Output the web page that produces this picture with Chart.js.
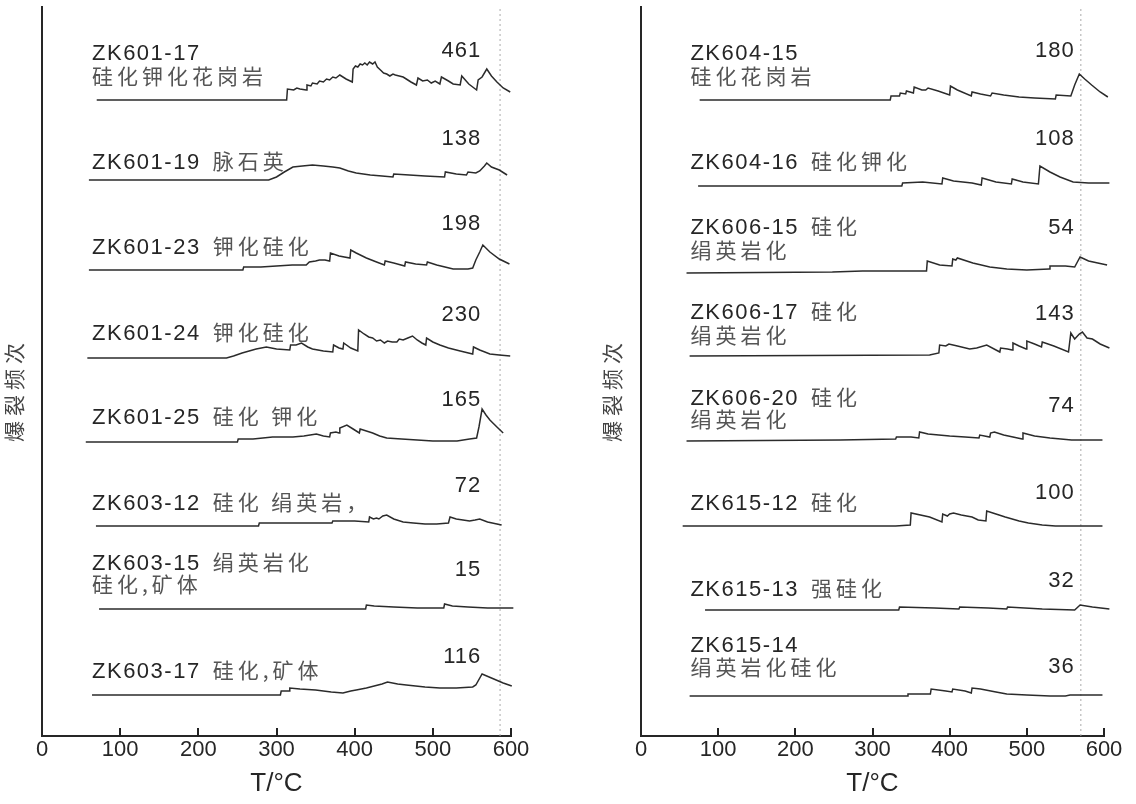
<!DOCTYPE html>
<html>
<head>
<meta charset="utf-8">
<script src="https://cdn.jsdelivr.net/npm/chart.js@4.4.0/dist/chart.umd.min.js"></script>
<style>
  html, body { margin: 0; padding: 0; background: #fff; }
  #wrap { position: relative; width: 1136px; height: 804px; }
  .panel { position: absolute; top: 0; height: 804px; }
</style>
</head>
<body>
<div id="wrap">
  <div class="panel" style="left:0;width:560px"><canvas id="left"></canvas></div>
  <div class="panel" style="left:560px;width:576px"><canvas id="right"></canvas></div>
</div>
<script>
// ---- data: [temperature °C, height above the trace's own baseline] ----
var zk601_17 = [[70,0],[313,0],[314,11],[322,10],[326,12],[330,11],[338,10],[339,15],[344,14],[346,17],[352,16],[355,19],[360,18],[364,21],[368,20],[372,23],[376,22],[381,25],[389,21],[397,18],[398,31],[401,34],[404,33],[407,36],[410,35],[413,37],[416,35],[419,38],[423,36],[426,38],[429,33],[433,30],[437,27],[441,26],[445,24],[449,26],[452,25],[457,24],[462,23],[466,21],[472,18],[479,15],[481,22],[487,19],[493,20],[498,17],[503,19],[509,16],[511,23],[520,19],[526,16],[535,15],[537,24],[546,16],[556,10],[558,20],[563,23],[569,31],[575,24],[582,18],[590,12],[599,8]];
var zk601_19 = [[60,0],[290,0],[300,3],[310,8],[321,13],[333,14],[346,15],[360,14],[372,13],[381,12],[392,9],[402,7],[420,5],[435,4],[449,3],[450,6],[470,5],[490,4],[515,3],[516,8],[530,6],[543,5],[545,8],[555,7],[560,9],[566,14],[569,17],[575,13],[585,10],[595,5]];
var zk601_23 = [[60,0],[257,0],[258,3],[280,3],[300,4],[320,5],[338,5],[342,8],[350,9],[355,10],[362,10],[368,9],[369,17],[380,14],[394,12],[395,20],[402,17],[415,12],[428,8],[438,5],[439,9],[450,7],[464,4],[465,8],[478,6],[492,5],[493,8],[505,5],[526,1],[545,1],[551,2],[555,10],[560,18],[564,25],[573,18],[585,11],[598,6]];
var zk601_24 = [[58,0],[236,0],[245,2],[256,5],[265,7],[274,9],[287,11],[300,9],[317,8],[318,13],[325,13],[332,15],[340,11],[346,9],[360,7],[372,6],[373,13],[380,10],[385,9],[386,15],[395,10],[404,7],[405,28],[412,24],[418,21],[423,20],[428,17],[433,18],[438,15],[442,17],[448,16],[454,16],[457,19],[462,18],[468,20],[474,22],[480,18],[486,15],[491,13],[492,20],[500,16],[509,13],[520,10],[535,7],[551,4],[552,11],[560,8],[573,4],[585,3],[599,2]];
var zk601_25 = [[56,0],[250,0],[251,3],[270,3],[295,5],[321,5],[335,6],[351,8],[360,6],[368,5],[369,9],[376,10],[380,9],[381,14],[390,17],[398,13],[406,9],[407,13],[415,11],[423,9],[432,6],[441,4],[460,3],[480,2],[500,1],[531,1],[547,3],[556,4],[559,15],[563,33],[568,27],[573,22],[582,15],[590,9]];
var zk603_12 = [[69,0],[277,0],[278,3],[320,3],[371,3],[372,5],[400,5],[418,4],[419,9],[424,7],[428,8],[431,7],[436,10],[441,11],[450,7],[462,4],[475,3],[490,2],[505,2],[520,3],[522,9],[530,7],[547,5],[554,6],[560,7],[570,4],[588,1]];
var zk603_15 = [[73,0],[414,0],[415,4],[425,3],[450,2],[480,1],[514,1],[515,5],[525,3],[545,2],[570,1],[603,1]];
var zk603_17 = [[64,0],[305,0],[306,4],[316,4],[317,7],[330,6],[350,5],[370,3],[385,2],[395,4],[402,5],[415,7],[425,9],[435,11],[442,13],[455,11],[466,10],[490,8],[509,7],[530,7],[551,8],[555,10],[563,21],[575,17],[590,12],[601,9]];

var zk604_15 = [[76,0],[323,0],[324,4],[335,4],[336,7],[343,6],[344,9],[353,7],[354,13],[364,10],[369,10],[372,12],[385,9],[400,5],[401,14],[410,10],[428,4],[429,8],[440,6],[453,4],[455,7],[470,5],[490,3],[510,2],[537,1],[538,5],[557,4],[562,15],[568,26],[575,21],[584,15],[595,8],[605,3]];
var zk604_16 = [[74,0],[338,0],[339,3],[365,4],[390,2],[391,8],[405,5],[429,3],[441,1],[442,8],[460,4],[480,2],[481,7],[495,4],[515,2],[517,20],[530,14],[543,9],[560,4],[580,3],[607,3]];
var zk606_15 = [[59,0],[248,1],[287,2],[370,2],[371,12],[387,8],[403,7],[404,14],[408,13],[410,15],[430,10],[452,6],[474,4],[500,3],[529,4],[530,7],[550,7],[562,6],[569,16],[580,12],[604,8]];
var zk606_17 = [[63,0],[374,1],[386,3],[387,11],[395,10],[399,12],[410,10],[426,7],[435,8],[448,11],[465,4],[466,8],[475,7],[481,6],[482,13],[490,10],[499,7],[500,15],[510,12],[519,9],[520,14],[535,10],[554,4],[557,23],[562,17],[568,22],[572,24],[578,18],[585,17],[595,12],[607,8]];
var zk606_20 = [[59,0],[258,1],[330,2],[331,4],[350,4],[360,3],[361,9],[372,7],[400,5],[420,4],[438,3],[439,6],[452,4],[453,8],[458,9],[470,6],[494,2],[495,8],[510,5],[530,3],[558,1],[598,1]];
var zk615_12 = [[54,0],[330,0],[349,1],[350,13],[374,9],[390,4],[391,12],[397,10],[400,12],[405,13],[415,11],[429,9],[437,6],[447,5],[448,15],[460,12],[472,9],[490,5],[502,3],[520,1],[537,0],[598,0]];
var zk615_13 = [[83,0],[334,0],[335,3],[380,2],[412,1],[413,3],[450,2],[474,1],[475,3],[520,1],[562,0],[569,5],[585,3],[607,1]];
var zk615_14 = [[63,0],[345,0],[346,2],[375,2],[376,7],[395,5],[403,4],[404,7],[420,5],[428,3],[429,8],[440,7],[460,4],[474,2],[500,1],[530,0],[550,0],[556,1],[598,1]];

var leftCodes = ['ZK601-17', 'ZK601-19', 'ZK601-23', 'ZK601-24', 'ZK601-25', 'ZK603-12', 'ZK603-15', 'ZK603-17'];
var leftInline = ['', '脉石英', '钾化硅化', '钾化硅化', '硅化 钾化', '硅化 绢英岩，', '绢英岩化', '硅化,矿体'];
var leftBelow = ['硅化钾化花岗岩', '', '', '', '', '', '硅化,矿体', ''];
var leftPeaks = [461, 138, 198, 230, 165, 72, 15, 116];

var rightCodes = ['ZK604-15', 'ZK604-16', 'ZK606-15', 'ZK606-17', 'ZK606-20', 'ZK615-12', 'ZK615-13', 'ZK615-14'];
var rightInline = ['', '硅化钾化', '硅化', '硅化', '硅化', '硅化', '强硅化', ''];
var rightBelow = ['硅化花岗岩', '', '绢英岩化', '绢英岩化', '绢英岩化', '', '', '绢英岩化硅化'];
var rightPeaks = [180, 108, 54, 143, 74, 100, 32, 36];

var xTicks = [0, 100, 200, 300, 400, 500, 600];

// ---- layout (stack offsets in y units, text offsets in px) ----
var leftPanel = {
  traces: [zk601_17, zk601_19, zk601_23, zk601_24, zk601_25, zk603_12, zk603_15, zk603_17],
  codes: leftCodes, inline: leftInline, below: leftBelow, peaks: leftPeaks,
  base: [636, 556, 466, 378, 294, 210, 127, 41],
  codeOff: [40, 11, 16, 18, 18, 16, 39, 17],
  belowOff: [13, 0, 0, 0, 0, 0, 14, 0],
  peakOff: [43, 35, 40, 37, 36, 34, 33, 32],
  mark: 586, axisWidth: 42, padRight: 49, titleX: 14
};
var rightPanel = {
  traces: [zk604_15, zk604_16, zk606_15, zk606_17, zk606_20, zk615_12, zk615_13, zk615_14],
  codes: rightCodes, inline: rightInline, below: rightBelow, peaks: rightPeaks,
  base: [636, 550, 463, 380, 295, 210, 126, 40],
  codeOff: [40, 17, 39, 37, 36, 16, 14, 44],
  belowOff: [13, 0, 12, 10, 11, 0, 0, 18],
  peakOff: [43, 41, 39, 36, 29, 27, 23, 23],
  mark: 570, axisWidth: 81, padRight: 32, titleX: 52
};

var INK = '#262626';
var LATIN = '"Liberation Sans", Arial, sans-serif';
var CJK = '"Noto Sans CJK SC", sans-serif';

function labelPlugin(p) {
  return {
    id: 'labels',
    afterDraw: function (chart) {
      var ctx = chart.ctx, xs = chart.scales.x, ys = chart.scales.y;
      var bottom = ys.getPixelForValue(0);
      ctx.save();

      // inward tick marks on the T axis
      ctx.fillStyle = '#222';
      xTicks.forEach(function (v) {
        if (v === 0) return;
        var px = Math.round(xs.getPixelForValue(v));
        ctx.fillRect(px - 1, bottom - 8, 2, 9);
      });

      // y axis title
      ctx.save();
      ctx.translate(p.titleX, 390);
      ctx.rotate(-Math.PI / 2);
      ctx.font = '21px ' + CJK;
      ctx.letterSpacing = '5px';
      ctx.fillStyle = '#444';
      ctx.textAlign = 'center';
      ctx.textBaseline = 'middle';
      ctx.fillText('爆裂频次', 0, 0);
      ctx.restore();

      var x0 = xs.getPixelForValue(64);
      var xr = xs.getPixelForValue(562);
      p.codes.forEach(function (code, i) {
        var by = ys.getPixelForValue(p.base[i]);
        var cy = by - p.codeOff[i];
        ctx.textAlign = 'left';
        ctx.textBaseline = 'alphabetic';
        ctx.font = '22px ' + LATIN;
        ctx.letterSpacing = '1.5px';
        ctx.fillStyle = INK;
        ctx.fillText(code, x0, cy);
        var w = ctx.measureText(code).width;
        ctx.font = '21px ' + CJK;
        ctx.letterSpacing = '4px';
        ctx.fillStyle = '#555';
        if (p.inline[i]) ctx.fillText(p.inline[i], x0 + w + 12, cy);
        if (p.below[i]) ctx.fillText(p.below[i], x0, by - p.belowOff[i] - 3);
        ctx.font = '22px ' + LATIN;
        ctx.letterSpacing = '1px';
        ctx.fillStyle = INK;
        ctx.textAlign = 'right';
        ctx.fillText(String(p.peaks[i]), xr, by - p.peakOff[i]);
      });
      ctx.restore();
    }
  };
}

function makeChart(id, p) {
  var datasets = p.traces.map(function (tr, i) {
    return {
      data: tr.map(function (pt) { return { x: pt[0], y: p.base[i] + pt[1] }; }),
      borderColor: '#2b2b2b',
      borderWidth: 1.5,
      pointRadius: 0,
      tension: 0,
      clip: false
    };
  });
  datasets.push({
    data: [{ x: p.mark, y: 0 }, { x: p.mark, y: 728 }],
    borderColor: '#aaa',
    borderWidth: 1,
    borderDash: [2, 3],
    pointRadius: 0
  });

  return new Chart(document.getElementById(id), {
    type: 'line',
    data: { datasets: datasets },
    options: {
      responsive: true,
      maintainAspectRatio: false,
      animation: false,
      layout: { padding: { top: 7, right: p.padRight, left: 0, bottom: 0 } },
      plugins: { legend: { display: false }, tooltip: { enabled: false } },
      scales: {
        x: {
          type: 'linear', min: 0, max: 600,
          afterBuildTicks: function (s) { s.ticks = xTicks.map(function (v) { return { value: v }; }); },
          afterFit: function (s) { s.height = 68; },
          grid: { display: false, drawTicks: false, tickLength: 0 },
          border: { display: true, color: INK, width: 2 },
          ticks: { padding: 1, color: INK, font: { size: 22, family: LATIN } },
          title: { display: true, text: 'T/°C', color: INK, font: { size: 26, family: LATIN }, padding: { top: 0, bottom: 5 } }
        },
        y: {
          min: 0, max: 729,
          afterFit: function (s) { s.width = p.axisWidth; },
          grid: { display: false },
          border: { display: true, color: INK, width: 2 },
          ticks: { display: false }
        }
      }
    },
    plugins: [labelPlugin(p)]
  });
}

makeChart('left', leftPanel);
makeChart('right', rightPanel);
</script>
</body>
</html>
